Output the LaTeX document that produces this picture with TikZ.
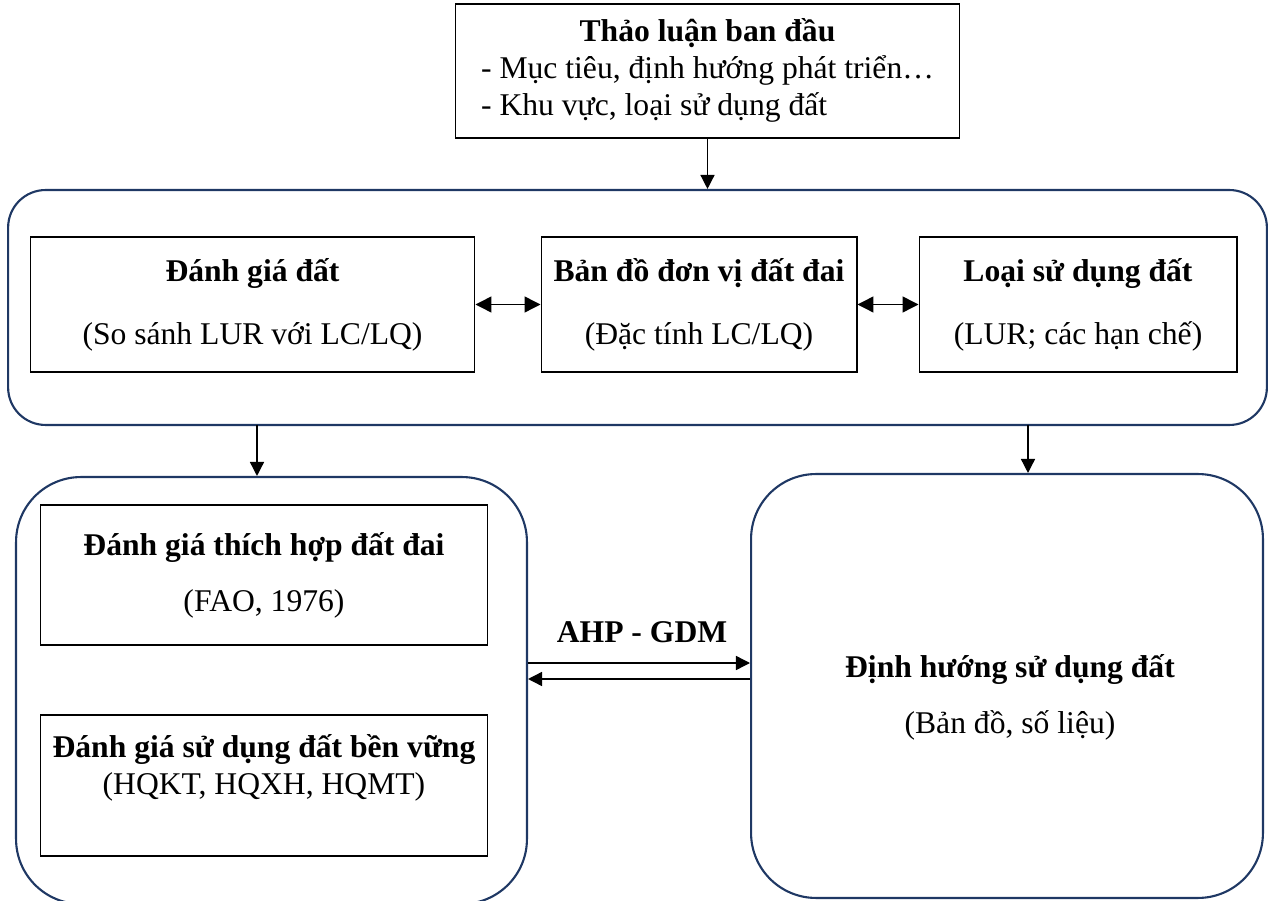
\documentclass[tikz,border=0pt]{standalone}
\usepackage{fontspec}
\setmainfont{Liberation Serif}
\usetikzlibrary{arrows.meta}
\definecolor{navy}{RGB}{31,56,100}

\begin{document}
\begin{tikzpicture}
  [x=0.02cm,y=-0.02cm,
  font=\fontsize{18}{21}\selectfont,
  box/.style={shape=rectangle,draw=black,line width=0.6pt,inner sep=2pt,align=center},
  group/.style={shape=rectangle,draw=navy,line width=1.2pt},
  arc/.style={-{Triangle[length=8pt,width=8pt]},line width=0.8pt},
  dbl/.style={{Triangle[length=9pt,width=9pt]}-{Triangle[length=9pt,width=9pt]},line width=0.8pt}]

  \useasboundingbox (0,0) rectangle (1275,901);

  \node (top) [box,minimum width=10.1cm,minimum height=2.68cm] at (707.5,71)
    {\begin{tabular}{@{}l@{}}
     \multicolumn{1}{@{}c@{}}{\textbf{Thảo luận ban đầu}}\\
     - Mục tiêu, định hướng phát triển…\\
     - Khu vực, loại sử dụng đất
     \end{tabular}};

  \node (frame) [group,rounded corners=0.75cm,minimum width=25.18cm,minimum height=4.7cm] at (637.5,307.5) {};
  \node (eval) [box,minimum width=8.9cm,minimum height=2.7cm] at (252.5,304.5)
    {\textbf{Đánh giá đất}\\[15pt](So sánh LUR với LC/LQ)};
  \node (unit) [box,minimum width=6.32cm,minimum height=2.7cm] at (699,304.5)
    {\textbf{Bản đồ đơn vị đất đai}\\[15pt](Đặc tính LC/LQ)};
  \node (lut) [box,minimum width=6.36cm,minimum height=2.7cm] at (1078,304.5)
    {\textbf{Loại sử dụng đất}\\[15pt](LUR; các hạn chế)};

  \node (lbox) [group,rounded corners=1.3cm,minimum width=10.22cm,minimum height=8.54cm] at (271.5,690.5) {};
  \node (rbox) [group,rounded corners=1.3cm,minimum width=10.24cm,minimum height=8.48cm] at (1007,686) {};

  \node (suit) [box,minimum width=8.96cm,minimum height=2.8cm] at (264,575)
    {\textbf{Đánh giá thích hợp đất đai}\\[11pt](FAO, 1976)};
  \node (sust) [box,minimum width=8.96cm,minimum height=2.82cm] at (264,785.5) {};
  \node (susttext) [align=center] at (264,768)
    {\textbf{Đánh giá sử dụng đất bền vững}\\(HQKT, HQXH, HQMT)};
  \node (orient) [align=center] at (1010,697)
    {\textbf{Định hướng sử dụng đất}\\[11pt](Bản đồ, số liệu)};
  \node (ahp) at (642,632) {\textbf{AHP - GDM}};

  % connectors
  \coordinate (f1) at (257,425);
  \coordinate (f2) at (1028,425);
  \draw [arc] (top) -- (top |- frame.north);
  \draw [dbl] (eval) -- (unit);
  \draw [dbl] (unit) -- (lut);
  \draw [arc] (f1) -- (f1 |- lbox.north);
  \draw [arc] (f2) -- (f2 |- rbox.north);
  \draw [arc] ([yshift=0.55cm]lbox.east) -- ([yshift=0.55cm]lbox.east -| rbox.west);
  \draw [arc] ([yshift=0.23cm]lbox.east -| rbox.west) -- ([yshift=0.23cm]lbox.east);

\end{tikzpicture}
\end{document}
